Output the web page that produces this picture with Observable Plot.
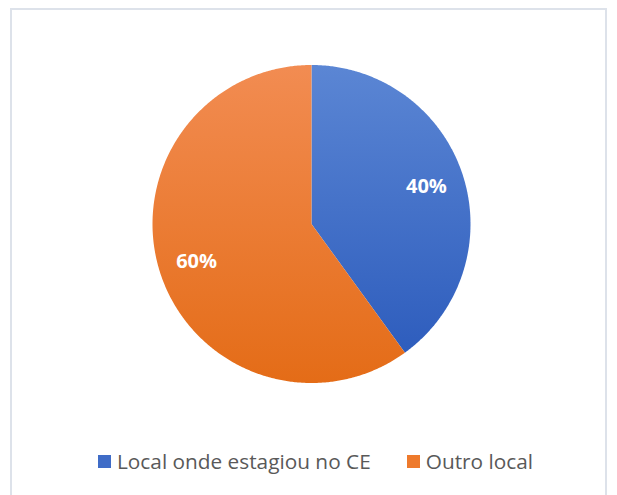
<!DOCTYPE html>
<html>
<head>
<meta charset="utf-8">
<script src="https://cdn.jsdelivr.net/npm/d3@7"></script>
<script src="https://cdn.jsdelivr.net/npm/@observablehq/plot@0.6"></script>
<style>
  html, body { margin: 0; padding: 0; background: #fff; width: 617px; height: 495px; overflow: hidden; }
  #frame { position: absolute; left: 10px; top: 8px; width: 597px; height: 520px;
           border: 2px solid #dde2ea; border-bottom: none; box-sizing: border-box; }
  #chart { position: absolute; left: 0; top: 0; }
  #legend { position: absolute; left: 98px; top: 447px; display: flex; align-items: center;
            font-family: "Open Sans", sans-serif; font-size: 20.8px; color: #595959; white-space: nowrap; }
  .sw { display: inline-block; width: 13px; height: 13px; margin-right: 6px; }
  .item { display: flex; align-items: center; }
</style>
</head>
<body>
<div id="frame"></div>
<div id="chart"></div>
<div id="legend"></div>
<script>
const categories = ["Local onde estagiou no CE", "Outro local"];
const values = [40, 60];
const labels = ["40%", "60%"];
const gradIds = ["gradBlue", "gradOrange"];
const swatchColors = ["#3f6cc7", "#ee7a2c"];

// Build slice outlines (unit circle coordinates) from the data via d3.pie
const arcs = d3.pie().sort(null).value(d => d)(values);
const slicePts = arcs.map((a, i) => {
  const pts = [{cat: categories[i], x: 0, y: 0}];
  const n = Math.max(2, Math.ceil((a.endAngle - a.startAngle) / (Math.PI / 360)));
  for (let k = 0; k <= n; k++) {
    const t = a.startAngle + (a.endAngle - a.startAngle) * k / n;
    pts.push({cat: categories[i], x: Math.sin(t), y: Math.cos(t)});
  }
  pts.push({cat: categories[i], x: 0, y: 0});
  return pts;
});
const labelData = arcs.map((a, i) => {
  const m = (a.startAngle + a.endAngle) / 2;
  return {label: labels[i], x: 0.76 * Math.sin(m), y: 0.76 * Math.cos(m)};
});

const defs = () => {
  const g = d3.create("svg:defs");
  const mk = (id, c0, c1) => {
    const lg = g.append("linearGradient").attr("id", id)
      .attr("x1", 0).attr("y1", 0).attr("x2", 0).attr("y2", 1);
    lg.append("stop").attr("offset", "0%").attr("stop-color", c0);
    lg.append("stop").attr("offset", "100%").attr("stop-color", c1);
  };
  mk("gradBlue", "#5b86d4", "#2e5dbd");
  mk("gradOrange", "#f28c52", "#e46c17");
  return g.node();
};

const plot = Plot.plot({
  width: 617,
  height: 440,
  marginLeft: 152,
  marginRight: 147,
  marginTop: 64.5,
  marginBottom: 57.5,
  x: {domain: [-1, 1], axis: null},
  y: {domain: [-1, 1], axis: null},
  style: {background: "transparent"},
  marks: [
    defs,
    ...slicePts.map((pts, i) => Plot.line(pts, {x: "x", y: "y", fill: `url(#${gradIds[i]})`, stroke: "none", curve: "linear"})),
    Plot.text(labelData, {x: "x", y: "y", text: "label", fill: "white", fontSize: 20, fontWeight: "bold",
      fontFamily: "'Open Sans', sans-serif"})
  ]
});
document.getElementById("chart").appendChild(plot);

const legend = document.getElementById("legend");
categories.forEach((c, i) => {
  const it = document.createElement("span");
  it.className = "item";
  if (i > 0) it.style.marginLeft = "36px";
  const sw = document.createElement("span");
  sw.className = "sw";
  sw.style.background = swatchColors[i];
  it.appendChild(sw);
  it.appendChild(document.createTextNode(c));
  legend.appendChild(it);
});
</script>
</body>
</html>
